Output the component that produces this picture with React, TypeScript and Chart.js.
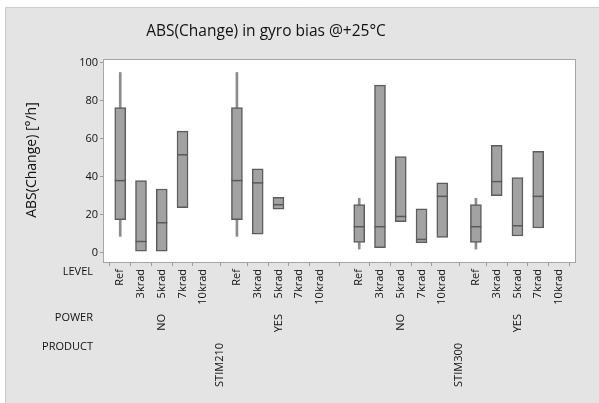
import React, { useEffect, useRef } from 'react';
import { Chart, registerables } from 'chart.js';
Chart.register(...registerables);

// ---- data ----
const TITLE = 'ABS(Change) in gyro bias @+25°C';
const Y_TITLE = 'ABS(Change) [°/h]';
const LEVELS = ['Ref', '3krad', '5krad', '7krad', '10krad'];
const POWERS = ['NO', 'YES'];
const PRODUCTS = ['STIM210', 'STIM300'];
const Y_TICKS = [0, 20, 40, 60, 80, 100];
// order: product > power > level (20 cells)
const Q3 = [76.4, 37.9, 33.5, 64.0, null, 76.4, 44.1, 29.1, null, null, 25.2, 88.2, 50.6, 23.0, 36.7, 25.2, 56.5, 39.5, 53.3, null];
const MEDIAN = [37.9, 5.8, 15.7, 51.5, null, 37.9, 36.7, 25.2, null, null, 13.6, 13.6, 19.0, 6.9, 29.6, 13.6, 37.4, 14.1, 29.6, null];
const Q1 = [17.3, 0.7, 0.7, 23.7, null, 17.3, 9.7, 22.8, null, null, 5.3, 2.5, 16.2, 5.1, 7.9, 5.3, 30.0, 8.7, 12.9, null];
const WHISKER_HI = [94.9, null, null, null, null, 94.9, null, null, null, null, 28.6, null, null, null, null, 28.6, null, null, null, null];
const WHISKER_LO = [8.5, null, null, null, null, 8.5, null, null, null, null, 1.8, null, null, null, null, 1.8, null, null, null, null];

// ---- layout constants ----
const POWER_STRIDE = 5.62;
const PRODUCT_STRIDE = 11.51;
const X_MIN = -0.83;
const X_MAX = 21.95;
const FONT = '"Open Sans", "Noto Sans", sans-serif';
const TEXT = '#111111';

const POS: number[] = [];
PRODUCTS.forEach((_, p) => POWERS.forEach((_, w) => LEVELS.forEach((_, l) => {
  POS.push(p * PRODUCT_STRIDE + w * POWER_STRIDE + l);
})));

const BOX_W = 11;

const decorPlugin = {
  id: 'decor',
  beforeDraw(chart: any) {
    const { ctx, width, height, chartArea: a } = chart;
    ctx.save();
    ctx.fillStyle = '#ffffff';
    ctx.fillRect(0, 0, width, height);
    ctx.fillStyle = '#e4e4e4';
    ctx.fillRect(5, 7, width - 5, height - 7);
    ctx.strokeStyle = '#cdcdcd';
    ctx.lineWidth = 1;
    ctx.beginPath();
    ctx.moveTo(5.5, height);
    ctx.lineTo(5.5, 7.5);
    ctx.lineTo(width, 7.5);
    ctx.stroke();
    ctx.fillStyle = '#ffffff';
    ctx.fillRect(a.left, a.top, a.right - a.left, a.bottom - a.top);
    ctx.restore();
  },
  afterDatasetsDraw(chart: any) {
    const { ctx, chartArea: a, scales } = chart;
    const xs = scales.x, ys = scales.y;
    ctx.save();
    ctx.strokeStyle = '#5a5a5a';
    ctx.lineWidth = 1.5;
    MEDIAN.forEach((m, i) => {
      if (m == null) return;
      const x = xs.getPixelForValue(POS[i]);
      const y = ys.getPixelForValue(m);
      ctx.beginPath();
      ctx.moveTo(x - BOX_W / 2, y);
      ctx.lineTo(x + BOX_W / 2, y);
      ctx.stroke();
    });
    ctx.strokeStyle = '#a6a6a6';
    ctx.lineWidth = 1;
    ctx.strokeRect(a.left + 0.5, a.top + 0.5, a.right - a.left - 1, a.bottom - a.top);
    ctx.restore();
  },
  afterDraw(chart: any) {
    const { ctx, scales } = chart;
    const xs = scales.x;
    ctx.save();
    ctx.fillStyle = TEXT;
    // title
    ctx.font = `15.5px ${FONT}`;
    ctx.textAlign = 'center';
    ctx.textBaseline = 'middle';
    ctx.fillText(TITLE, 266, 32);
    // y title
    ctx.save();
    ctx.translate(32, 160);
    ctx.rotate(-Math.PI / 2);
    ctx.font = `14px ${FONT}`;
    ctx.fillText(Y_TITLE, 0, 0);
    ctx.restore();
    // row headers
    ctx.font = `11px ${FONT}`;
    ctx.textAlign = 'right';
    ctx.fillText('LEVEL', 93, 272);
    ctx.fillText('POWER', 93, 318);
    ctx.fillText('PRODUCT', 93, 347);
    // power & product labels
    const vert = (t: string, x: number, yTop: number) => {
      ctx.save();
      ctx.translate(x, yTop);
      ctx.rotate(-Math.PI / 2);
      ctx.textAlign = 'right';
      ctx.textBaseline = 'middle';
      ctx.fillText(t, 0, 0);
      ctx.restore();
    };
    PRODUCTS.forEach((prod, p) => {
      POWERS.forEach((pw, w) => {
        const i0 = (p * POWERS.length + w) * LEVELS.length;
        const c = (xs.getPixelForValue(POS[i0]) + xs.getPixelForValue(POS[i0 + LEVELS.length - 1])) / 2;
        vert(pw, c, 314);
      });
      const j0 = p * POWERS.length * LEVELS.length;
      const j1 = j0 + POWERS.length * LEVELS.length - 1;
      const c = (xs.getPixelForValue(POS[j0]) + xs.getPixelForValue(POS[j1])) / 2;
      vert(prod, c, 343);
    });
    ctx.restore();
  },
};

export default function App() {
  const ref = useRef<HTMLCanvasElement | null>(null);
  useEffect(() => {
    document.body.style.margin = '0';
    const boxData: any[] = [];
    const whiskerData: any[] = [];
    POS.forEach((x, i) => {
      if (Q1[i] != null && Q3[i] != null) boxData.push({ x, y: [Q1[i], Q3[i]] });
      if (WHISKER_LO[i] != null && WHISKER_HI[i] != null) whiskerData.push({ x, y: [WHISKER_LO[i], WHISKER_HI[i]] });
    });
    const chart = new Chart(ref.current!, {
      type: 'bar',
      data: {
        datasets: [
          {
            data: boxData,
            backgroundColor: '#a2a2a2',
            borderColor: '#5c5c5c',
            borderWidth: 1.5,
            borderSkipped: false,
            barThickness: BOX_W,
            grouped: false,
            order: 1,
          } as any,
          {
            data: whiskerData,
            backgroundColor: '#8c8c8c',
            borderWidth: 0,
            barThickness: 2,
            grouped: false,
            order: 2,
          } as any,
        ],
      },
      options: {
        animation: false,
        responsive: false,
        events: [],
        layout: { padding: { top: 59, right: 23, left: 0, bottom: 0 } },
        plugins: { legend: { display: false }, tooltip: { enabled: false }, title: { display: false } },
        scales: {
          x: {
            type: 'linear',
            min: X_MIN,
            max: X_MAX,
            offset: false,
            border: { display: false },
            grid: { drawOnChartArea: false, drawTicks: true, tickLength: 4, color: '#9c9c9c' },
            ticks: {
              autoSkip: false,
              minRotation: 90,
              maxRotation: 90,
              padding: 3,
              color: TEXT,
              font: { family: FONT, size: 11 },
              callback: (_v: any, i: number) => LEVELS[i % LEVELS.length],
            },
            afterBuildTicks: (s: any) => { s.ticks = POS.map((v) => ({ value: v })); },
            afterFit: (s: any) => { s.height = 141; },
          } as any,
          y: {
            min: -5,
            max: 102,
            border: { display: false },
            grid: { drawOnChartArea: false, drawTicks: true, tickLength: 3, color: '#9c9c9c' },
            ticks: { padding: 2, color: TEXT, font: { family: FONT, size: 11 } },
            afterBuildTicks: (s: any) => { s.ticks = Y_TICKS.map((v) => ({ value: v })); },
            afterFit: (s: any) => { s.width = 103; },
          } as any,
        },
      },
      plugins: [decorPlugin],
    });
    return () => chart.destroy();
  }, []);
  return <canvas ref={ref} width={599} height={403} style={{ display: 'block', width: 599, height: 403 }} />;
}
